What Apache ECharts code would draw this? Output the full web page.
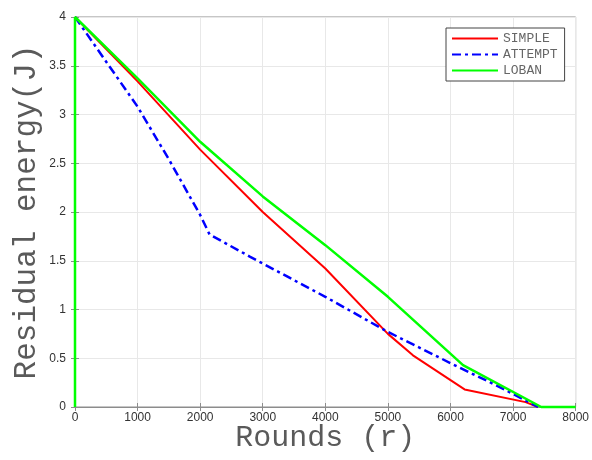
<!DOCTYPE html>
<html>
<head>
<meta charset="utf-8">
<script src="https://cdn.jsdelivr.net/npm/echarts@6/dist/echarts.min.js"></script>
<style>html,body{margin:0;padding:0;background:#fff;}#c{width:592px;height:460px;}</style>
</head>
<body>
<div id="c"></div>
<script>
var seriesNames = ['SIMPLE', 'ATTEMPT', 'LOBAN'];
var xTicks = [0, 1000, 2000, 3000, 4000, 5000, 6000, 7000, 8000];
var yTicks = [0, 0.5, 1, 1.5, 2, 2.5, 3, 3.5, 4];
var simpleData = [[0,4],[1000,3.34],[2000,2.64],[3000,2.0],[4000,1.42],[5000,0.75],[5400,0.53],[6225,0.18],[7200,0.05],[7400,0]];
var attemptData = [[0,4],[1000,3.08],[1500,2.54],[2000,1.97],[2150,1.77],[2800,1.54],[4000,1.13],[5000,0.77],[6000,0.45],[6770,0.21],[7400,0]];
var lobanData = [[0,0],[0,4],[1000,3.37],[2000,2.72],[3000,2.16],[4000,1.66],[5000,1.13],[6200,0.43],[7450,0],[8000,0]];

var chart = echarts.init(document.getElementById('c'), null, {renderer: 'canvas'});
var tickFont = {color: '#333', fontSize: 12, fontFamily: 'Liberation Sans, Arial, sans-serif'};
var monoFont = 'Liberation Mono, Courier New, monospace';
chart.setOption({
  animation: false,
  backgroundColor: '#fff',
  grid: {left: 75, right: 15, top: 17, bottom: 53, show: true, borderColor: '#8c8c8c', borderWidth: 1},
  legend: {
    data: seriesNames,
    orient: 'vertical',
    left: 446, top: 28,
    padding: [4, 7, 4, 5],
    itemWidth: 46, itemHeight: 14, itemGap: 3,
    backgroundColor: '#fff',
    borderColor: '#444', borderWidth: 1, borderRadius: 0,
    itemStyle: {color: 'rgba(0,0,0,0)', borderWidth: 0, opacity: 0},
    textStyle: {fontFamily: monoFont, fontSize: 13, color: '#666'}
  },
  xAxis: [{
    type: 'value', min: xTicks[0], max: xTicks[xTicks.length-1], interval: 1000,
    name: 'Rounds (r)', nameLocation: 'middle', nameGap: 16, nameMoveOverlap: false,
    nameTextStyle: {fontFamily: monoFont, fontSize: 30, color: '#5a5a5a'},
    axisLine: {show: true, lineStyle: {color: '#8c8c8c'}},
    axisTick: {show: true, inside: true, length: 4, lineStyle: {color: '#8c8c8c'}},
    axisLabel: Object.assign({margin: 5, formatter: function (v) { return String(v); }}, tickFont),
    splitLine: {show: true, lineStyle: {color: '#e8e8e8'}}
  }, {
    type: 'value', position: 'top', min: 0, max: 8000, interval: 1000,
    axisLine: {show: true, lineStyle: {color: '#8c8c8c'}},
    axisTick: {show: true, inside: true, length: 4, lineStyle: {color: '#8c8c8c'}},
    axisLabel: {show: false}, splitLine: {show: false}
  }],
  yAxis: [{
    type: 'value', min: yTicks[0], max: yTicks[yTicks.length-1], interval: 0.5,
    name: 'Residual energy(J)', nameLocation: 'middle', nameGap: 33, nameMoveOverlap: false,
    nameTextStyle: {fontFamily: monoFont, fontSize: 31, color: '#5a5a5a'},
    axisLine: {show: true, lineStyle: {color: '#8c8c8c'}},
    axisTick: {show: true, inside: true, length: 4, lineStyle: {color: '#8c8c8c'}},
    axisLabel: Object.assign({margin: 9, formatter: function (v) { return String(v); }}, tickFont),
    splitLine: {show: true, lineStyle: {color: '#e8e8e8'}}
  }, {
    type: 'value', position: 'right', min: 0, max: 4, interval: 0.5,
    axisLine: {show: true, lineStyle: {color: '#8c8c8c'}},
    axisTick: {show: true, inside: true, length: 4, lineStyle: {color: '#8c8c8c'}},
    axisLabel: {show: false}, splitLine: {show: false}
  }],
  series: [
    {name: seriesNames[0], type: 'line', data: simpleData, showSymbol: false, symbol: 'none', clip: false,
     lineStyle: {color: '#ff0000', width: 2}, itemStyle: {color: '#ff0000'}, z: 3},
    {name: seriesNames[1], type: 'line', data: attemptData, showSymbol: false, symbol: 'none', clip: false,
     lineStyle: {color: '#0000ff', width: 2.5, type: [9, 4, 3, 4]}, itemStyle: {color: '#0000ff'}, z: 4},
    {name: seriesNames[2], type: 'line', data: lobanData, showSymbol: false, symbol: 'none', clip: false,
     lineStyle: {color: '#00ff00', width: 2.5}, itemStyle: {color: '#00ff00'}, z: 5}
  ]
});
</script>
</body>
</html>
